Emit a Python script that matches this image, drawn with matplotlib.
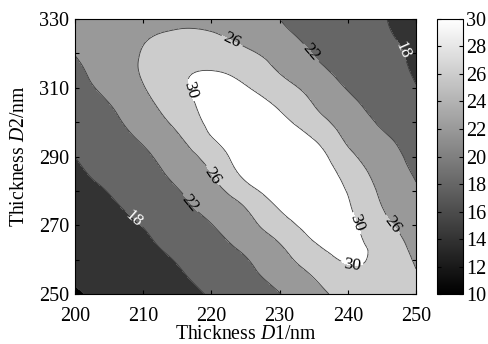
"""
Mapa de contorno da espessura D1 x D2 (tons de cinza, estilo MATLAB).
"""

import numpy as np
import matplotlib
matplotlib.use("Agg")
import matplotlib.pyplot as plt
import matplotlib.tri as mtri
from matplotlib import cm, colors

# ── Dados ───────────────────────────────────────────────
espessura_d1 = [200, 205, 210, 215, 220, 225, 230, 235, 240, 245, 250]
espessura_d2 = [250, 255, 260, 265, 270, 275, 280, 285, 290,
                295, 300, 305, 310, 315, 320, 325, 330]

# uma linha por valor de D2 (de 250 a 330)
z_250 = [13.7, 14.8, 15.9, 17.0, 18.3, 20.1, 21.9, 24.7, 27.2, 28.0, 26.8]
z_255 = [14.3, 15.4, 16.5, 17.6, 19.1, 21.0, 23.2, 26.1, 28.8, 29.0, 26.3]
z_260 = [14.9, 16.0, 17.0, 18.2, 20.0, 21.8, 24.6, 28.1, 30.3, 29.0, 25.6]
z_265 = [15.5, 16.5, 17.5, 19.1, 20.9, 23.1, 26.1, 29.9, 30.7, 28.6, 24.6]
z_270 = [16.0, 17.0, 18.1, 20.0, 21.9, 24.6, 28.3, 31.2, 30.8, 27.3, 23.6]
z_275 = [16.6, 17.6, 18.9, 20.9, 23.1, 26.0, 30.2, 31.8, 30.4, 26.1, 22.9]
z_280 = [17.1, 18.1, 19.7, 21.8, 24.5, 28.5, 31.7, 32.1, 29.8, 25.3, 22.3]
z_285 = [17.5, 18.9, 20.6, 22.9, 26.0, 30.9, 32.9, 32.2, 28.7, 24.5, 21.7]
z_290 = [18.0, 19.7, 21.4, 23.9, 27.6, 32.0, 33.4, 31.8, 27.1, 23.7, 21.0]
z_295 = [18.8, 20.5, 22.4, 25.3, 29.7, 32.3, 32.5, 30.0, 25.4, 22.7, 20.2]
z_300 = [19.6, 21.2, 23.6, 27.0, 30.8, 32.0, 31.0, 27.7, 24.3, 21.5, 19.4]
z_305 = [20.3, 21.9, 24.7, 28.3, 31.0, 31.3, 29.5, 26.0, 23.0, 20.6, 18.7]
z_310 = [20.9, 22.9, 25.8, 29.2, 30.7, 30.2, 27.7, 24.6, 21.8, 19.9, 18.1]
z_315 = [21.3, 23.7, 26.4, 29.2, 30.0, 28.8, 25.7, 23.0, 20.9, 19.3, 17.7]
z_320 = [22.1, 24.2, 26.2, 28.0, 28.2, 26.8, 24.3, 21.9, 20.4, 19.0, 17.4]
z_325 = [22.7, 24.1, 25.6, 26.6, 26.4, 24.8, 22.9, 21.2, 19.9, 18.5, 17.1]
z_330 = [22.7, 23.4, 24.2, 25.1, 25.0, 23.7, 22.0, 20.8, 19.5, 18.2, 16.8]

niveis = [10, 14, 18, 22, 26, 30, 40]
niveis_rotulo = [18, 22, 26, 30]
cbar_ticks = list(range(10, 31, 2))

# posições aproximadas dos rótulos (D1, D2)
pos_rotulos = [
    (222.7, 322.4), (216.9, 309.3), (234.5, 320.0), (248.1, 321.0),
    (220.3, 284.6), (216.9, 276.4), (208.5, 271.5), (241.3, 270.6),
    (246.2, 269.6), (240.6, 258.2),
]

# ── Estilo ──────────────────────────────────────────────
plt.rcParams["font.family"] = ["Liberation Serif", "DejaVu Serif"]
plt.rcParams["mathtext.fontset"] = "custom"
plt.rcParams["mathtext.rm"] = "Liberation Serif"
plt.rcParams["mathtext.it"] = "Liberation Serif:italic"

z = np.array([z_250, z_255, z_260, z_265, z_270, z_275, z_280, z_285, z_290,
              z_295, z_300, z_305, z_310, z_315, z_320, z_325, z_330])
xx, yy = np.meshgrid(espessura_d1, espessura_d2)
tri = mtri.Triangulation(xx.ravel(), yy.ravel())
interp = mtri.CubicTriInterpolator(tri, z.ravel(), kind="min_E")
tri_fino, z_fino = mtri.UniformTriRefiner(tri).refine_field(
    z.ravel(), triinterpolator=interp, subdiv=4)

norma = colors.Normalize(vmin=10, vmax=30)
cores = [cm.gray(norma(v)) for v in niveis[:-1]]

fig = plt.figure(figsize=(4.88, 3.44), dpi=100)
ax = fig.add_axes([0.1537, 0.1453, 0.6988, 0.7995])
cax = fig.add_axes([0.8955, 0.1453, 0.0533, 0.7995])

ax.tricontourf(tri_fino, z_fino, levels=niveis, colors=cores)
# linha 14 sem rótulo
ax.tricontour(tri_fino, z_fino, levels=[14], colors="#3a3a3a", linewidths=0.6)
linhas = ax.tricontour(tri_fino, z_fino, levels=niveis_rotulo,
                       colors="#3a3a3a", linewidths=0.6)
ax.clabel(linhas, manual=pos_rotulos, fmt="%d",
          fontsize=12.5, colors=["white", "black", "black", "black"],
          inline=True, inline_spacing=3)

# ── Eixos ───────────────────────────────────────────────
ax.set_xlim(200, 250)
ax.set_ylim(250, 330)
ax.set_xticks(range(200, 251, 10))
ax.set_yticks(range(250, 331, 20))
ax.set_yticks(range(260, 331, 20), minor=True)
ax.tick_params(which="both", direction="in", top=True, right=True,
               length=3, width=0.8, labelsize=14.5)
ax.tick_params(axis="x", pad=9)
ax.tick_params(axis="y", pad=4)
ax.set_xlabel("Thickness $\\it{D}$1/nm", fontsize=14.2)
ax.set_ylabel("Thickness $\\it{D}$2/nm", fontsize=14.2)
ax.xaxis.set_label_coords(0.5, -0.112)
ax.yaxis.set_label_coords(-0.135, 0.5)

cb = fig.colorbar(cm.ScalarMappable(norm=norma, cmap="gray"), cax=cax)
cb.set_ticks(cbar_ticks)
cb.ax.tick_params(direction="in", left=True, right=True, length=3,
                  width=0.8, labelsize=14.5, pad=2)
cb.outline.set_linewidth(0.8)

plt.savefig("out.png", dpi=100)
plt.close()
